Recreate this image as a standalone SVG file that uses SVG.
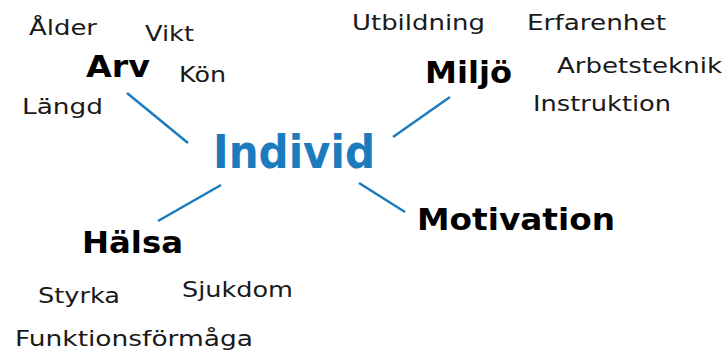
<svg xmlns="http://www.w3.org/2000/svg" width="725" height="351" viewBox="0 0 725 351">
<style>
.t{font-family:"DejaVu Sans","Liberation Sans",sans-serif;font-size:22px;fill:#1a1a1a}
.b{font-family:"DejaVu Sans","Liberation Sans",sans-serif;font-weight:bold;font-size:31px;fill:#000}
.c{font-family:"DejaVu Sans","Liberation Sans",sans-serif;font-weight:bold;font-size:47px;fill:#1b7bbd}
.l{stroke:#1b7bbd;stroke-width:2.5;fill:none}
</style>
<rect width="725" height="351" fill="#fff"/>
<g id="connectors">
<line class="l" x1="127" y1="93" x2="188" y2="143"/>
<line class="l" x1="450" y1="97" x2="393" y2="137"/>
<line class="l" x1="221" y1="185" x2="158" y2="221"/>
<line class="l" x1="359" y1="183" x2="405" y2="212"/>
</g>
<g id="individ"><text class="c" x="213" y="168" textLength="162" lengthAdjust="spacingAndGlyphs">Individ</text></g>
<g id="arv">
<text class="b" x="86" y="77" textLength="64" lengthAdjust="spacingAndGlyphs">Arv</text>
<text class="t" x="29" y="35" textLength="68" lengthAdjust="spacingAndGlyphs">Ålder</text>
<text class="t" x="145" y="41" textLength="49" lengthAdjust="spacingAndGlyphs">Vikt</text>
<text class="t" x="179" y="82" textLength="47" lengthAdjust="spacingAndGlyphs">Kön</text>
<text class="t" x="22" y="114" textLength="81" lengthAdjust="spacingAndGlyphs">Längd</text>
</g>
<g id="miljo">
<text class="b" x="425" y="83" textLength="87" lengthAdjust="spacingAndGlyphs">Miljö</text>
<text class="t" x="352" y="30" textLength="133" lengthAdjust="spacingAndGlyphs">Utbildning</text>
<text class="t" x="527" y="30" textLength="139" lengthAdjust="spacingAndGlyphs">Erfarenhet</text>
<text class="t" x="557" y="73" textLength="165" lengthAdjust="spacingAndGlyphs">Arbetsteknik</text>
<text class="t" x="533" y="111" textLength="138" lengthAdjust="spacingAndGlyphs">Instruktion</text>
</g>
<g id="halsa">
<text class="b" x="82" y="253" textLength="101" lengthAdjust="spacingAndGlyphs">Hälsa</text>
<text class="t" x="38" y="303" textLength="82" lengthAdjust="spacingAndGlyphs">Styrka</text>
<text class="t" x="182" y="297" textLength="111" lengthAdjust="spacingAndGlyphs">Sjukdom</text>
<text class="t" x="15" y="346" textLength="238" lengthAdjust="spacingAndGlyphs">Funktionsförmåga</text>
</g>
<g id="motivation">
<text class="b" x="417" y="230" textLength="198" lengthAdjust="spacingAndGlyphs">Motivation</text>
</g>
</svg>
